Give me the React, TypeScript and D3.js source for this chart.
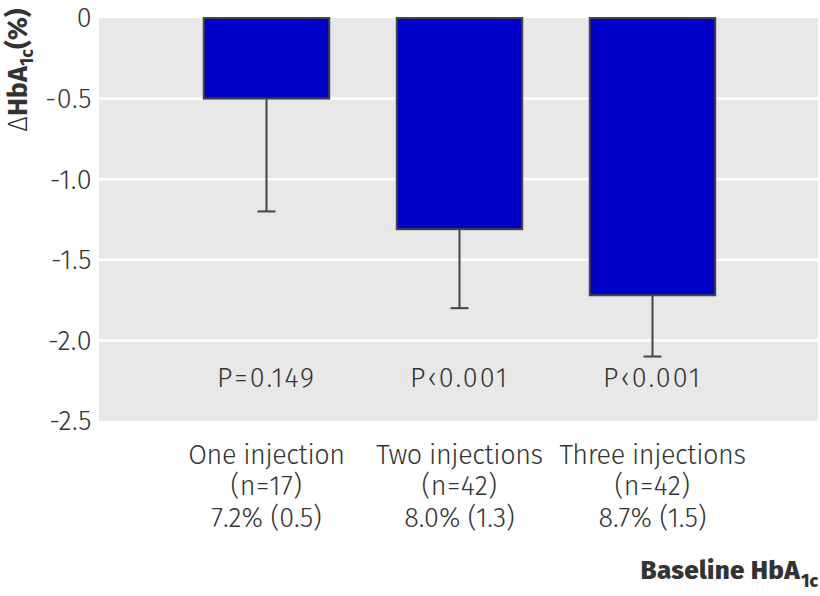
import React from "react";
import * as d3 from "d3";

const categories = ["One injection", "Two injections", "Three injections"];
const nLabels = ["(n=17)", "(n=42)", "(n=42)"];
const baselineLabels = ["7.2% (0.5)", "8.0% (1.3)", "8.7% (1.5)"];
const pLabels = ["P=0.149", "P\u20390.001", "P\u20390.001"];
const meanChange = [-0.5, -1.31, -1.72];
const errorLow = [-1.2, -1.8, -2.1];
const yTicks = [0, -0.5, -1.0, -1.5, -2.0, -2.5];
const yTickLabels = ["0", "-0.5", "-1.0", "-1.5", "-2.0", "-2.5"];

const W = 820;
const H = 596;
const plotLeft = 99;
const plotRight = 818;
const plotTop = 18;
const plotBottom = 421;
const FONT = "'Fira Sans', 'Open Sans', 'Noto Sans', sans-serif";
const TXT = "#333";
const FS = 27;

export default function App() {
  const y = d3.scaleLinear().domain([0, -2.5]).range([plotTop, plotBottom]);
  const x = d3
    .scaleBand<string>()
    .domain(categories)
    .range([170, 749])
    .paddingInner(0.35)
    .paddingOuter(0.175);
  const bw = x.bandwidth();

  return (
    <svg
      width={W}
      height={H}
      style={{ position: "absolute", left: 0, top: 0 }}
      fontFamily={FONT}
    >
      <rect x={0} y={0} width={W} height={H} fill="#fff" />
      <rect
        x={plotLeft}
        y={plotTop}
        width={plotRight - plotLeft}
        height={plotBottom - plotTop}
        fill="#e8e8e8"
      />
      {yTicks.slice(1, -1).map((t) => (
        <line
          key={t}
          x1={plotLeft}
          x2={plotRight}
          y1={y(t)}
          y2={y(t)}
          stroke="#fff"
          strokeWidth={2.5}
        />
      ))}
      {yTicks.map((t, i) => (
        <text
          key={t}
          x={92}
          y={y(t)}
          dy="0.35em"
          textAnchor="end"
          fontSize={FS}
          fontWeight={300}
          letterSpacing={0.5}
          fill={TXT}
        >
          {yTickLabels[i]}
        </text>
      ))}
      {categories.map((c, i) => {
        const cx = (x(c) as number) + bw / 2;
        return (
          <g key={c}>
            <line
              x1={cx}
              x2={cx}
              y1={y(meanChange[i])}
              y2={y(errorLow[i])}
              stroke="#444"
              strokeWidth={2}
            />
            <line
              x1={cx - 9}
              x2={cx + 9}
              y1={y(errorLow[i])}
              y2={y(errorLow[i])}
              stroke="#444"
              strokeWidth={2}
            />
            <rect
              x={x(c) as number}
              y={y(0)}
              width={bw}
              height={y(meanChange[i]) - y(0)}
              fill="#0000c8"
              stroke="#444"
              strokeWidth={2}
            />
            <text x={cx} y={387} textAnchor="middle" fontSize={FS} fontWeight={300} letterSpacing={2} fill={TXT}>
              {pLabels[i]}
            </text>
            <text x={cx} y={464} textAnchor="middle" fontSize={FS} fontWeight={300} letterSpacing={-0.4} fill={TXT}>
              {c}
            </text>
            <text x={cx} y={495} textAnchor="middle" fontSize={FS} fontWeight={300} letterSpacing={0.5} fill={TXT}>
              {nLabels[i]}
            </text>
            <text x={cx} y={527} textAnchor="middle" fontSize={FS} fontWeight={300} fill={TXT}>
              {baselineLabels[i]}
            </text>
          </g>
        );
      })}
      <text
        transform="translate(27,70) rotate(-90)"
        textAnchor="middle"
        fontSize={27}
        fontWeight="bold"
        fill={TXT}
      >
        <tspan fontWeight={300}>{"\u2206"}</tspan>
        {"HbA"}
        <tspan fontSize={18} dy={6}>
          1c
        </tspan>
        <tspan dy={-6}>(%)</tspan>
      </text>
      <text
        x={800}
        y={579}
        textAnchor="end"
        fontSize={26}
        fontWeight={800}
        letterSpacing={0.3}
        fill={TXT}
      >
        Baseline HbA
      </text>
      <text x={801} y={587} fontSize={18} fontWeight={800} fill={TXT}>
        1c
      </text>
    </svg>
  );
}
